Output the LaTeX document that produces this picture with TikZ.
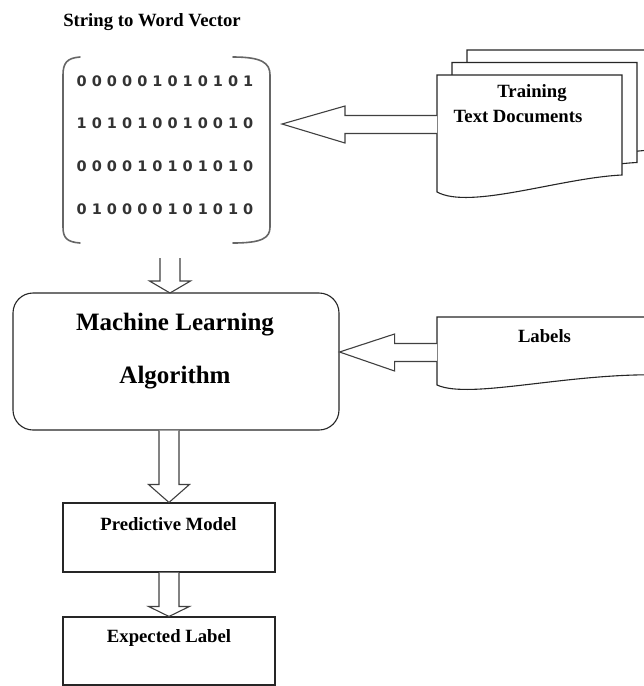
\documentclass[tikz,border=0pt]{standalone}
\usepackage{fontspec}
\setmainfont{Liberation Serif}
\newfontfamily\digitfont{DejaVu Sans}
\usetikzlibrary{calc}

\tikzset{
  box/.style={draw=black!85, line width=1.1pt, fill=white, inner sep=0pt},
  blk/.style={draw=black!75, line width=1.1pt, fill=white, line join=miter},
  docpage/.style={draw=black!85, line width=1.1pt, fill=white},
  brk/.style={draw=black!60, line width=1.6pt, line cap=round},
  lbl/.style={inner sep=0pt, anchor=base, text=black,
    font=\bfseries\fontsize{18.7}{22}\selectfont},
  biglbl/.style={inner sep=0pt, anchor=base, text=black,
    font=\bfseries\fontsize{25}{30}\selectfont},
  bits/.style={inner sep=0pt, anchor=base, text=black!80,
    font=\digitfont\bfseries\fontsize{14.5}{17}\selectfont},
}

% hollow block arrow pointing left: #1 tail, #2 tip, #3 head length
\newcommand{\blkleft}[3]{%
  \draw[blk] let \p1=(#1), \p2=(#2) in
    (\x1,\y1+9pt) -- (\x2+#3pt,\y1+9pt) -- (\x2+#3pt,\y1+18.5pt) -- (\x2,\y2)
    -- (\x2+#3pt,\y1-18.5pt) -- (\x2+#3pt,\y1-9pt) -- (\x1,\y1-9pt);}
% hollow block arrow pointing down: #1 tail, #2 tip, #3 head length
\newcommand{\blkdown}[3]{%
  \draw[blk] let \p1=(#1), \p2=(#2) in
    (\x1-10pt,\y1) -- (\x1-10pt,\y2+#3pt) -- (\x1-20.5pt,\y2+#3pt) -- (\x2,\y2)
    -- (\x1+20.5pt,\y2+#3pt) -- (\x1+10pt,\y2+#3pt) -- (\x1+10pt,\y1);}
% one page of the document stack
\newcommand{\docpage}{%
  \filldraw[docpage] (437,75) -- (622,75) -- (622,175)
    .. controls (560,178) and (470,210) .. (437,192) -- cycle;}

\begin{document}
\begin{tikzpicture}[x=1pt, y=-1pt]
\useasboundingbox (0,0) rectangle (644,686);
\begin{scope}
\clip (0,0) rectangle (644,686);

% title
\node[lbl] (title) at (152,26) {String to Word Vector};

% word vector matrix
\draw[brk] (80,57) .. controls (67,58) and (63,63) .. (63,75) -- (63,227)
  .. controls (63,238) and (67,242) .. (80,243);
\draw[brk] (233,57) .. controls (262,57) and (270,63) .. (270,75) -- (270,227)
  .. controls (270,238) and (262,243) .. (233,243);
\node[bits] (r1) at (165,86)  {0 0 0 0 0 1 0 1 0 1 0 1};
\node[bits] (r2) at (165,128) {1 0 1 0 1 0 0 1 0 0 1 0};
\node[bits] (r3) at (165,171) {0 0 0 0 1 0 1 0 1 0 1 0};
\node[bits] (r4) at (165,214) {0 1 0 0 0 0 1 0 1 0 1 0};

% training documents (stack of three pages)
\begin{scope}[shift={(30,-25)}]\docpage\end{scope}
\begin{scope}[shift={(15,-12.5)}]\docpage\end{scope}
\docpage
\node[lbl] (train1) at (532,97)  {Training};
\node[lbl] (train2) at (518,122) {Text Documents};

% labels document
\filldraw[docpage] (437,317) -- (665,317) -- (665,375)
  .. controls (570,372) and (470,400) .. (437,385) -- cycle;
\node[lbl] (labels) at (544.5,342) {Labels};

% process boxes
\node[box, rounded corners=20pt, minimum width=326pt, minimum height=137pt] (ml) at (176,361.5) {};
\node[biglbl] (ml1) at (175,330) {Machine Learning};
\node[biglbl] (ml2) at (175,383) {Algorithm};
\node[box, minimum width=212pt, minimum height=69pt] (pred) at (169,537.5) {};
\node[lbl] (predtxt) at (168.5,530) {Predictive Model};
\node[box, minimum width=212pt, minimum height=68pt] (exp) at (169,651) {};
\node[lbl] (exptxt) at (169,642) {Expected Label};

% arrow anchors
\coordinate (docin) at (437,124.5);
\coordinate (vecout) at (282,124);
\coordinate (labin) at (437,352.5);
\coordinate (mlin) at (ml.east |- 0,352);
\coordinate (vecdown) at (170,258);
\coordinate (mltop) at (170,293);

% arrows
\blkleft{docin}{vecout}{63}
\blkleft{labin}{mlin}{55}
\blkdown{vecdown}{mltop}{12}
\blkdown{ml.south -| pred.north}{pred.north}{18}
\blkdown{pred.south}{exp.north}{10}
\end{scope}
\end{tikzpicture}
\end{document}
